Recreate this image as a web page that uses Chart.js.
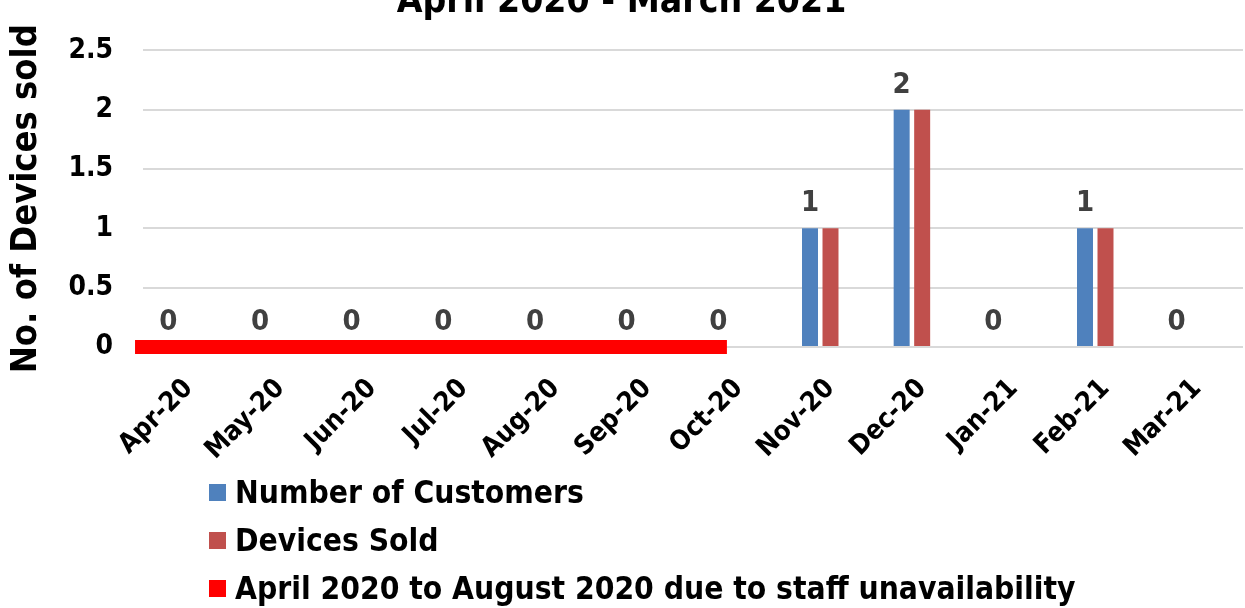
<!DOCTYPE html>
<html>
<head>
<meta charset="utf-8">
<script src="https://cdn.jsdelivr.net/npm/chart.js@4.4.1/dist/chart.umd.min.js"></script>
<style>
  html, body { margin: 0; padding: 0; background: #fff; overflow: hidden; }
  #page { position: relative; width: 1245px; height: 608px; overflow: hidden; }
  #chartBox { position: absolute; left: 0; top: -30px; width: 1245px; height: 500px; }
  #legend { position: absolute; left: 209px; top: 468px; font: bold 31.5px "DejaVu Sans Condensed", "DejaVu Sans", sans-serif; color: #000; }
  .row { height: 48px; display: flex; align-items: center; white-space: nowrap; }
  .sq { width: 17px; height: 17px; margin-right: 9px; flex: none; }
</style>
</head>
<body>
<div id="page">
  <div id="chartBox"><canvas id="myChart"></canvas></div>
  <div id="legend"></div>
</div>
<script>
var FONT = '"DejaVu Sans Condensed", "DejaVu Sans", sans-serif';

// chart data
var months = ["Apr-20", "May-20", "Jun-20", "Jul-20", "Aug-20", "Sep-20",
              "Oct-20", "Nov-20", "Dec-20", "Jan-21", "Feb-21", "Mar-21"];
var customers   = [0, 0, 0, 0, 0, 0, 0, 1, 2, 0, 1, 0];
var devicesSold = [0, 0, 0, 0, 0, 0, 0, 1, 2, 0, 1, 0];
var seriesNames = ["Number of Customers", "Devices Sold",
                   "April 2020 to August 2020 due to staff unavailability"];
var seriesColors = ["#4F81BD", "#C0504D", "#FF0000"];
// red band on the zero line, in month-index units (Apr-20 = 0)
var gapSpan = [-0.587, 5.87];
var yMax = 2.5, yStep = 0.5;

// value labels above the "Number of Customers" bars
var barLabels = {
	id: "barLabels",
	afterDatasetsDraw: function(chart) {
		var ctx = chart.ctx;
		var meta = chart.getDatasetMeta(0);
		ctx.save();
		ctx.font = "bold 29px " + FONT;
		ctx.fillStyle = "#404040";
		ctx.textAlign = "center";
		ctx.textBaseline = "alphabetic";
		meta.data.forEach(function(bar, i) {
			ctx.fillText(String(customers[i]), bar.x, bar.y - 17);
		});
		ctx.restore();
	}
};

// thick red band along the x axis for the staff-unavailability months
var gapBand = {
	id: "gapBand",
	afterDatasetsDraw: function(chart) {
		var x = chart.scales.x, y = chart.scales.y;
		var ctx = chart.ctx;
		ctx.save();
		ctx.strokeStyle = seriesColors[2];
		ctx.lineWidth = 14;
		ctx.beginPath();
		ctx.moveTo(x.getPixelForValue(gapSpan[0]), y.getPixelForValue(0));
		ctx.lineTo(x.getPixelForValue(gapSpan[1]), y.getPixelForValue(0));
		ctx.stroke();
		ctx.restore();
	}
};

var chart = new Chart(document.getElementById("myChart"), {
	type: "bar",
	data: {
		labels: months,
		datasets: [
			{ label: seriesNames[0], data: customers, backgroundColor: seriesColors[0] },
			{ label: seriesNames[1], data: devicesSold, backgroundColor: seriesColors[1] },
			{ label: seriesNames[2], data: months.map(function() { return null; }), backgroundColor: seriesColors[2] }
		]
	},
	options: {
		responsive: true,
		maintainAspectRatio: false,
		animation: false,
		datasets: { bar: { categoryPercentage: 0.671, barPercentage: 0.78 } },
		layout: { padding: { left: 0, right: 2, top: 0, bottom: 5 } },
		plugins: {
			legend: { display: false },
			tooltip: { enabled: false },
			title: {
				display: true,
				text: "April 2020 - March 2021",
				color: "#000",
				font: { family: FONT, size: 37, weight: "bold" },
				padding: { top: 10, bottom: 26 }
			}
		},
		scales: {
			x: {
				grid: { display: false },
				border: { display: false },
				ticks: {
					color: "#000",
					font: { family: FONT, size: 27, weight: "bold" },
					minRotation: 45,
					maxRotation: 45,
					autoSkip: false,
					padding: 18
				},
				afterFit: function(scale) { scale.height = 118; }
			},
			y: {
				min: 0,
				max: yMax,
				ticks: {
					stepSize: yStep,
					color: "#000",
					font: { family: FONT, size: 28, weight: "bold" },
					padding: 30,
					callback: function(v) { return String(v); }
				},
				grid: { color: "#d9d9d9", lineWidth: 2, drawTicks: false },
				border: { display: false },
				title: {
					display: true,
					text: "No. of Devices sold",
					color: "#000",
					font: { family: FONT, size: 36, weight: "bold" },
					padding: { top: 5, bottom: 0 }
				},
				afterFit: function(scale) { scale.width = 143; }
			}
		}
	},
	plugins: [gapBand, barLabels]
});

// legend, one entry per row
var legend = document.getElementById("legend");
seriesNames.forEach(function(name, i) {
	var row = document.createElement("div");
	row.className = "row";
	var sq = document.createElement("span");
	sq.className = "sq";
	sq.style.background = seriesColors[i];
	var txt = document.createElement("span");
	txt.textContent = name;
	row.appendChild(sq);
	row.appendChild(txt);
	legend.appendChild(row);
});
</script>
</body>
</html>
